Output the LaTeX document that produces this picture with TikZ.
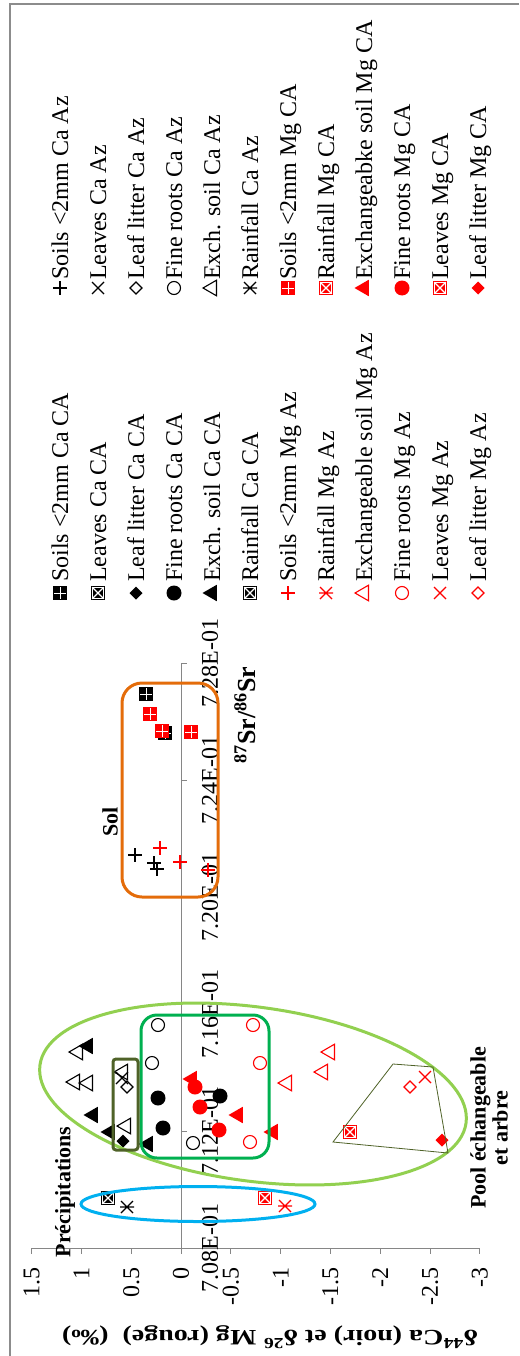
\documentclass[tikz,border=0pt]{standalone}
\usepackage{fontspec}
\usepackage{graphicx}
\setmainfont{Liberation Serif}
\usetikzlibrary{shapes.geometric}
\definecolor{axgray}{HTML}{868686}
\definecolor{framegray}{HTML}{8C8C8C}
\definecolor{skyblue}{HTML}{00B0F0}
\definecolor{lgreen}{HTML}{92D050}
\definecolor{dgreen}{HTML}{00B050}
\definecolor{orng}{HTML}{E46C0A}
\definecolor{olive}{HTML}{4F6228}
\tikzset{
  mk/.style={inner sep=0pt, outer sep=0pt, line width=1.1pt},
  ocirc/.style={mk, circle, draw, minimum size=13pt},
  fcirc/.style={mk, circle, fill, minimum size=15pt},
  otri/.style={mk, regular polygon, regular polygon sides=3, draw, minimum size=18pt, rotate=90},
  ftri/.style={mk, regular polygon, regular polygon sides=3, fill, minimum size=19pt, rotate=90},
  odia/.style={mk, diamond, draw, minimum width=12pt, minimum height=12pt},
  fdia/.style={mk, diamond, fill, minimum width=13pt, minimum height=13pt},
  pics/mplus/.style={code={\draw[line width=1.2pt] (-7,0)--(7,0) (0,-7)--(0,7);}},
  pics/mcross/.style={code={\draw[line width=1.2pt] (-6,-6)--(6,6) (-6,6)--(6,-6);}},
  pics/mstar/.style={code={\draw[line width=1.2pt] (-6,-6)--(6,6) (-6,6)--(6,-6) (-7,0)--(7,0);}},
  pics/msqplus/.style={code={\fill (-7,-7) rectangle (7,7);
      \draw[white,line width=0.9pt] (-6,0)--(6,0) (0,-6)--(0,6);}},
  pics/msqx/.style={code={\fill (-7,-7) rectangle (7,7);
      \draw[white,line width=0.7pt] (-5.8,-5.8) rectangle (5.8,5.8);
      \draw[white,line width=1.1pt] (-5.8,-5.8)--(5.8,5.8) (-5.8,5.8)--(5.8,-5.8);}},
  legtxt/.style={rotate=90, anchor=base west, inner sep=0pt, font=\fontsize{24}{28}\selectfont},
  ticklab/.style={rotate=90, inner sep=0pt, font=\fontsize{24}{28}\selectfont},
  annot/.style={rotate=90, inner sep=0pt, align=center, font=\fontsize{22}{22}\selectfont\bfseries},
  axisline/.style={draw=axgray, line width=1pt},
  blob/.style={line width=3pt},
}
\begin{document}
\begin{tikzpicture}[x=1pt,y=-1pt]
\useasboundingbox (0,0) rectangle (519,1356);
% frame
\draw[framegray, line width=1.2pt] (10,1356) -- (10,4) -- (519,4);

% ---------- legend, upper section ----------
\pic[black] (mu0) at (60,288) {mplus};
\node[legtxt] (tu0) at (68,280) {Soils <2mm Ca Az};
\pic[black] (mu1) at (98,288) {mcross};
\node[legtxt] (tu1) at (106,280) {Leaves Ca Az};
\node[odia, black] (mu2) at (136,288) {};
\node[legtxt] (tu2) at (144,280) {Leaf litter Ca Az};
\node[ocirc, black] (mu3) at (174,288) {};
\node[legtxt] (tu3) at (182,280) {Fine roots Ca Az};
\node[otri, black] (mu4) at (212,288) {};
\node[legtxt] (tu4) at (220,280) {Exch. soil Ca Az};
\pic[black] (mu5) at (250,288) {mstar};
\node[legtxt] (tu5) at (258,280) {Rainfall Ca Az};
\pic[red] (mu6) at (288,288) {msqplus};
\node[legtxt] (tu6) at (296,280) {Soils <2mm Mg CA};
\pic[red] (mu7) at (326,288) {msqx};
\node[legtxt] (tu7) at (334,280) {Rainfall Mg CA};
\node[ftri, red] (mu8) at (364,288) {};
\node[legtxt] (tu8) at (372,280) {Exchangeabke soil Mg CA};
\node[fcirc, red] (mu9) at (402,288) {};
\node[legtxt] (tu9) at (410,280) {Fine roots Mg CA};
\pic[red] (mu10) at (440,288) {msqx};
\node[legtxt] (tu10) at (448,280) {Leaves Mg CA};
\node[fdia, red] (mu11) at (478,288) {};
\node[legtxt] (tu11) at (486,280) {Leaf litter Mg CA};

% ---------- legend, lower section ----------
\pic[black] (ml0) at (60,593) {msqplus};
\node[legtxt] (tl0) at (68,582) {Soils <2mm Ca CA};
\pic[black] (ml1) at (98,593) {msqx};
\node[legtxt] (tl1) at (106,582) {Leaves Ca CA};
\node[fdia, black] (ml2) at (136,593) {};
\node[legtxt] (tl2) at (144,582) {Leaf litter Ca CA};
\node[fcirc, black] (ml3) at (174,593) {};
\node[legtxt] (tl3) at (182,582) {Fine roots Ca CA};
\node[ftri, black] (ml4) at (212,593) {};
\node[legtxt] (tl4) at (220,582) {Exch. soil Ca CA};
\pic[black] (ml5) at (250,593) {msqx};
\node[legtxt] (tl5) at (258,582) {Rainfall Ca CA};
\pic[red] (ml6) at (288,593) {mplus};
\node[legtxt] (tl6) at (296,582) {Soils <2mm Mg Az};
\pic[red] (ml7) at (326,593) {mstar};
\node[legtxt] (tl7) at (334,582) {Rainfall Mg Az};
\node[otri, red] (ml8) at (364,593) {};
\node[legtxt] (tl8) at (372,582) {Exchangeable soil Mg Az};
\node[ocirc, red] (ml9) at (402,593) {};
\node[legtxt] (tl9) at (410,582) {Fine roots Mg Az};
\pic[red] (ml10) at (440,593) {mcross};
\node[legtxt] (tl10) at (448,582) {Leaves Mg Az};
\node[odia, red] (ml11) at (478,593) {};
\node[legtxt] (tl11) at (486,582) {Leaf litter Mg Az};

% ---------- axes ----------
\draw[axisline] (31.6,1248) -- (479.8,1248);
\foreach \v in {31.6,81.4,131.2,181,230.8,280.6,330.4,380.2,430,479.8}
  \draw[axisline] (\v,1248) -- (\v,1254);
\foreach \v/\t [count=\i] in {31.6/1.5,81.4/1,131.2/0.5,181/0,230.8/-0.5,280.6/-1,330.4/-1.5,380.2/-2,430/-2.5,479.8/-3}
  \node[ticklab, anchor=east] (yt\i) at (\v,1267) {\t};
\draw[axisline] (181,1248) -- (181,663);
\foreach \w in {1248,1131,1014,897,780,663}
  \draw[axisline] (181,\w) -- (187,\w);
\foreach \w/\t [count=\i] in {1248/7.08E-01,1131/7.12E-01,1014/7.16E-01,897/7.20E-01,780/7.24E-01,663/7.28E-01}
  \node[ticklab] (xt\i) at (210,\w) {\t};

% axis titles
\node[rotate=180, inner sep=0pt] (ytitle) at (270,1337)
  {\resizebox{416pt}{\height}{\fontsize{22}{22}\selectfont\bfseries δ\textsuperscript{44}Ca (noir) et δ\textsuperscript{26} Mg (rouge)\ \ (‰)}};
\node[rotate=90, inner sep=0pt, font=\fontsize{26}{26}\selectfont\bfseries] (xtitle) at (245,715)
  {\textsuperscript{87}Sr/\textsuperscript{86}Sr};

% annotations
\node[annot] (lprec) at (65,1192) {Précipitations};
\node[annot] (lsol) at (110,822) {Sol};
\node[annot] (lpool) at (489,1128) {Pool échangeable\\et arbre};

% ---------- data: soil ----------
\pic[black] (d1) at (146,694) {msqplus};
\pic[black] (d2) at (165,733) {msqplus};
\pic[red] (d3) at (150,714) {msqplus};
\pic[red] (d4) at (162,731) {msqplus};
\pic[red] (d5) at (191,732) {msqplus};
\pic[black] (d6) at (135,855) {mplus};
\pic[black] (d7) at (154,863) {mplus};
\pic[black] (d8) at (157,869) {mplus};
\pic[red] (d9) at (160,848) {mplus};
\pic[red] (d10) at (180,862) {mplus};
\pic[red] (d11) at (208,870) {mplus};

% ---------- data: rainfall ----------
\pic[black] (d12) at (108,1198) {msqx};
\pic[black] (d13) at (127,1207) {mstar};
\pic[red] (d14) at (265,1198) {msqx};
\pic[red] (d15) at (285,1206) {mstar};

% ---------- data: exchangeable pool and trees ----------
\node[ftri, black] (e1) at (88,1046) {};
\node[otri, black] (e2) at (78,1052) {};
\node[otri, black] (e3) at (75,1082) {};
\node[otri, black] (e4) at (88,1083) {};
\node[ftri, black] (e5) at (93,1115) {};
\node[ftri, black] (e6) at (110,1132) {};
\node[otri, black] (e7) at (123,1072) {};
\pic[black] (e8) at (122,1078) {mcross};
\node[odia, black] (e9) at (127,1087) {};
\node[otri, black] (e10) at (126,1126) {};
\node[fdia, black] (e11) at (123,1141) {};
\node[ftri, black] (e12) at (148,1144) {};
\node[ocirc, black] (e13) at (158,1025) {};
\node[ocirc, black] (e14) at (152,1063) {};
\node[ocirc, black] (e15) at (193,1143) {};
\node[fcirc, black] (e16) at (158,1098) {};
\node[fcirc, black] (e17) at (163,1128) {};
\node[fcirc, black] (e18) at (220,1096) {};
\node[ocirc, red] (r1) at (253,1025) {};
\node[ocirc, red] (r2) at (260,1063) {};
\node[ocirc, red] (r3) at (250,1142) {};
\node[ftri, red] (r4) at (192,1079) {};
\node[fcirc, red] (r5) at (195,1087) {};
\node[fcirc, red] (r6) at (200,1107) {};
\node[fcirc, red] (r7) at (219,1130) {};
\node[ftri, red] (r8) at (238,1115) {};
\node[ftri, red] (r9) at (273,1132) {};
\node[otri, red] (r10) at (287,1083) {};
\node[otri, red] (r11) at (323,1072) {};
\node[otri, red] (r12) at (330,1052) {};
\pic[red] (r13) at (425,1077) {mcross};
\node[odia, red] (r14) at (410,1087) {};
\pic[red] (r15) at (350,1132) {msqx};
\node[fdia, red] (r16) at (442,1140) {};

% ---------- grouping shapes ----------
\draw[skyblue, blob] (198,1204) ellipse [x radius=117, y radius=17.5];
\draw[lgreen, blob, rotate around={-7.75:(253,1094)}] (253,1094) ellipse [x radius=215, y radius=87];
\draw[dgreen, blob, rounded corners=16pt] (141,1015) rectangle (269,1158);
\draw[olive, blob, rounded corners=3pt] (113,1059) rectangle (138,1150);
\draw[orng, blob, rounded corners=20pt] (122,683) rectangle (218,897);
\draw[olive, line width=0.8pt] (393,1064) -- (433,1067) -- (448,1153) -- (333,1142) -- cycle;
\end{tikzpicture}
\end{document}
